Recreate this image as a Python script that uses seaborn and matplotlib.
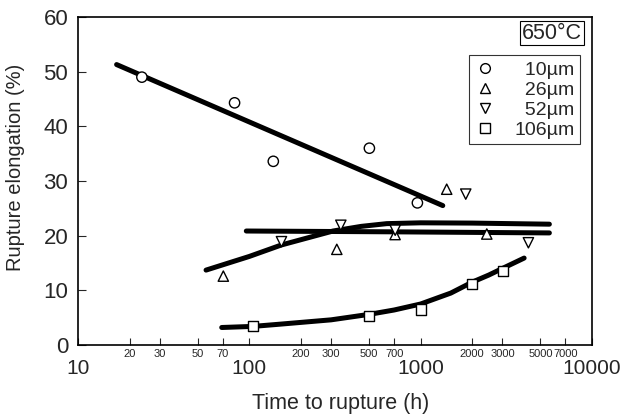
import numpy as np
import pandas as pd
import seaborn as sns
import matplotlib.pyplot as plt
from matplotlib.lines import Line2D

# ---------------- data ---------------- #
grain_sizes = ["10µm", "26µm", "52µm", "106µm"]
markers = ["o", "^", "v", "s"]

t_10 = [23.6, 82, 138, 502, 957]
e_10 = [49.0, 44.3, 33.6, 36.0, 26.0]

t_26 = [70.5, 324, 709, 1419, 2432]
e_26 = [12.6, 17.5, 20.2, 28.5, 20.3]

t_52 = [154, 342, 710, 1833, 4254]
e_52 = [18.9, 21.9, 21.0, 27.6, 18.7]

t_106 = [105, 500, 1001, 1996, 3013]
e_106 = [3.5, 5.3, 6.5, 11.1, 13.5]

# fitted trend lines
fit_10_t = [16.8, 1346]
fit_10_e = [51.3, 25.5]

fit_rise_t = [55.9, 100, 154, 308, 450, 634, 1000, 2000, 5640]
fit_rise_e = [13.7, 16.2, 18.3, 20.85, 21.7, 22.2, 22.35, 22.3, 22.1]

fit_flat_t = [96, 700, 5640]
fit_flat_e = [20.85, 20.7, 20.5]

fit_106_t = [69, 105, 150, 300, 500, 700, 1000, 1500, 2000, 2500, 3000, 4017]
fit_106_e = [3.2, 3.4, 3.8, 4.6, 5.6, 6.4, 7.5, 9.5, 11.5, 12.8, 14.0, 15.9]

major_ticks = [10, 100, 1000, 10000]
minor_ticks = [20, 30, 50, 70, 200, 300, 500, 700, 2000, 3000, 5000, 7000]

# ---------------- build tables ---------------- #
pts = pd.concat([
    pd.DataFrame({"t": t_10, "e": e_10, "size": grain_sizes[0]}),
    pd.DataFrame({"t": t_26, "e": e_26, "size": grain_sizes[1]}),
    pd.DataFrame({"t": t_52, "e": e_52, "size": grain_sizes[2]}),
    pd.DataFrame({"t": t_106, "e": e_106, "size": grain_sizes[3]}),
], ignore_index=True)

fits = pd.concat([
    pd.DataFrame({"t": fit_10_t, "e": fit_10_e, "fit": "a"}),
    pd.DataFrame({"t": fit_rise_t, "e": fit_rise_e, "fit": "b"}),
    pd.DataFrame({"t": fit_flat_t, "e": fit_flat_e, "fit": "c"}),
    pd.DataFrame({"t": fit_106_t, "e": fit_106_e, "fit": "d"}),
], ignore_index=True)

# ---------------- plot ---------------- #
sns.set_theme(style="ticks")
plt.rcParams["font.family"] = ["Liberation Sans", "DejaVu Sans"]

fig = plt.figure(figsize=(6.21, 4.17), dpi=100)
ax = fig.add_axes([0.1256, 0.1727, 0.8277, 0.7865])

for name, grp in fits.groupby("fit"):
    sns.lineplot(data=grp, x="t", y="e", color="black", lw=3.6,
                 estimator=None, sort=False, ax=ax, legend=False)

sns.scatterplot(data=pts, x="t", y="e", style="size", style_order=grain_sizes,
                markers=dict(zip(grain_sizes, markers)), color="white",
                edgecolor="black", linewidth=1.0, s=55, ax=ax, legend=False,
                zorder=3)

ax.set_xscale("log")
ax.set_xlim(10, 10000)
ax.set_ylim(0, 60)
ax.set_yticks(range(0, 61, 10))

ax.set_xticks(major_ticks)
ax.set_xticklabels([str(v) for v in major_ticks])
ax.set_xticks(minor_ticks, minor=True)
ax.set_xticklabels([str(v) for v in minor_ticks], minor=True)

ax.tick_params(axis="x", which="major", direction="in", length=5, width=0.8,
               labelsize=15, pad=10)
ax.tick_params(axis="x", which="minor", direction="in", length=5, width=0.8,
               labelsize=8, pad=3)
ax.tick_params(axis="y", direction="in", length=6, width=0.8, labelsize=16, pad=7)

for sp in ax.spines.values():
    sp.set_linewidth(1.2)
    sp.set_color("black")

ax.set_xlabel("Time to rupture (h)", fontsize=15.5)
ax.set_ylabel("Rupture elongation (%)", fontsize=14.5)
ax.xaxis.set_label_coords(0.51, -0.145)
ax.yaxis.set_label_coords(-0.103, 0.541)

handles = [Line2D([], [], ls="none", marker=m, markersize=7, markerfacecolor="white",
                  markeredgecolor="black", markeredgewidth=1.0) for m in markers]
labels = ["\u2007" * (5 - len(g)) + g for g in grain_sizes]
leg = ax.legend(handles, labels, loc="upper right", bbox_to_anchor=(0.977, 0.883),
                frameon=True, fancybox=False, edgecolor="black", fontsize=14,
                handlelength=1.0, handletextpad=1.0, labelspacing=0.12,
                borderpad=0.3, borderaxespad=0)
leg.get_frame().set_linewidth(0.8)

ax.text(0.922, 0.951, "650°C", transform=ax.transAxes, ha="center", va="center",
        fontsize=15.5,
        bbox=dict(boxstyle="square,pad=0.08", facecolor="white", edgecolor="black",
                  linewidth=0.8))

fig.savefig("out.png", dpi=100)
